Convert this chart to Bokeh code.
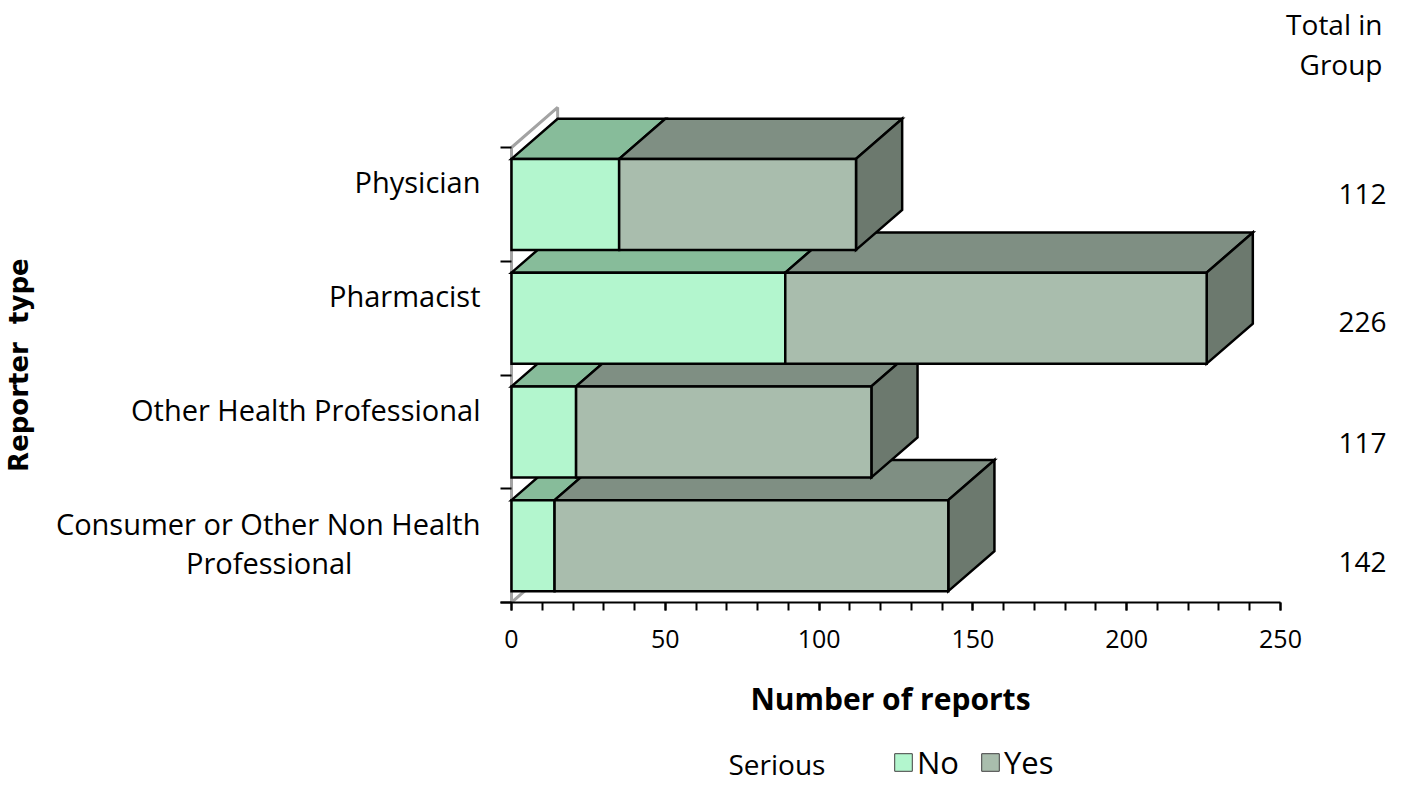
from bokeh.plotting import figure
from bokeh.models import Range1d, FixedTicker, LinearAxis, Label, Legend, LegendItem, Title
from bokeh.layouts import column
from bokeh.embed import file_html
from bokeh.resources import INLINE

# ---------------- data ----------------
categories = ["Consumer or Other Non Health\nProfessional", "Other Health Professional",
              "Pharmacist", "Physician"]
no_values = [14, 21, 89, 35]
yes_values = [128, 96, 137, 77]
totals = [n + y for n, y in zip(no_values, yes_values)]
series_names = ["No", "Yes"]
legend_title = "Serious"
x_title = "Number of reports"
y_title = "Reporter\u00a0 type"
totals_title = ["Total in", "Group"]
x_major = [0, 50, 100, 150, 200, 250]
x_minor = list(range(0, 251, 10))

# ---------------- layout / style ----------------
FONT = "Open Sans"
DX, DY = 15.0, 0.352          # 3D depth offset (data units)
BAR_LO, BAR_HI = 0.1, 0.9     # bar front face within a category band
LABEL_OFF = 0.70              # category label position inside band
LINE_STEP = 0.175             # half line height of wrapped labels (data units)
WRAP_PAD = "\u00a0" * 17      # centres the wrapped second line under the first
TITLE_PAD = "\u00a0" * 5      # moves the rotated axis title slightly down
TOTAL_POS = [0.355, 1.405, 2.47, 3.59]
NO_FRONT, NO_TOP = "#B3F6CE", "#87BC9A"
YES_FRONT, YES_TOP, YES_SIDE = "#A9BDAD", "#7F8F83", "#6C796E"
WALL = "#A3A3A3"

W, H = 1428, 786
H_LEG = 50
H_MAIN = H - H_LEG
FRAME_L, FRAME_R, FRAME_B, FRAME_T = 500, 1280, 602, 82
PX_PER_Y = 113.75
Y_TOP = (FRAME_B - FRAME_T) / PX_PER_Y

p = figure(width=W, height=H_MAIN, output_backend="svg", toolbar_location=None,
           x_range=Range1d(-3.576, 250), y_range=Range1d(0, Y_TOP),
           min_border_left=FRAME_L, min_border_right=W - FRAME_R,
           min_border_top=FRAME_T, min_border_bottom=H_MAIN - FRAME_B)
p.outline_line_color = None
p.grid.visible = False
p.background_fill_color = "white"

# header of the totals column (two right-aligned lines)
def style_title(t):
    t.align = "right"
    t.offset = -102
    t.standoff = 0
    t.vertical_align = "bottom"
    t.text_font = FONT
    t.text_font_size = "28px"
    t.text_font_style = "normal"
    t.text_color = "black"

p.title.text = totals_title[0]
style_title(p.title)
t2 = Title(text=totals_title[1])
style_title(t2)
p.add_layout(t2, "above")

# wall / floor edges
p.line(x=[0, 0, DX, DX], y=[0, 4, 4 + DY, DY], line_color=WALL, line_width=3)
p.line(x=[0, DX], y=[0, DY], line_color=WALL, line_width=3)

# 3D stacked bars, drawn bottom category first
xs, ys, fills = [], [], []
for i, (n, y) in enumerate(zip(no_values, yes_values)):
    b, t = i + BAR_LO, i + BAR_HI
    tot = n + y
    xs.append([0, n, n + DX, DX]); ys.append([t, t, t + DY, t + DY]); fills.append(NO_TOP)
    xs.append([n, tot, tot + DX, n + DX]); ys.append([t, t, t + DY, t + DY]); fills.append(YES_TOP)
    xs.append([tot, tot + DX, tot + DX, tot]); ys.append([b, b + DY, t + DY, t]); fills.append(YES_SIDE)
    xs.append([0, n, n, 0]); ys.append([b, b, t, t]); fills.append(NO_FRONT)
    xs.append([n, tot, tot, n]); ys.append([b, b, t, t]); fills.append(YES_FRONT)

p.patches(xs=xs, ys=ys, fill_color=fills, line_color="black", line_width=2.5,
          line_join="miter")

# x axis
xa = p.xaxis[0]
xa.ticker = FixedTicker(ticks=x_major, minor_ticks=x_minor)
xa.axis_line_color = "black"
xa.axis_line_width = 2
xa.major_tick_line_color = "black"
xa.major_tick_line_width = 2
xa.minor_tick_line_color = "black"
xa.minor_tick_line_width = 2
xa.major_tick_in = 0
xa.major_tick_out = 8
xa.minor_tick_in = 0
xa.minor_tick_out = 8
xa.major_label_standoff = 19
xa.major_label_text_font = FONT
xa.major_label_text_font_size = "25px"
xa.major_label_text_color = "black"
xa.axis_label = x_title
xa.axis_label_text_font = FONT
xa.axis_label_text_font_size = "30px"
xa.axis_label_text_font_style = "bold"
xa.axis_label_text_color = "black"
xa.axis_label_standoff = 27

# y axis (category labels + band ticks)
label_pos, label_txt = [], []
for i, c in enumerate(categories):
    parts = c.split("\n")
    label_pos.append(round(i + LABEL_OFF - LINE_STEP * (len(parts) - 1), 3))
    label_txt.append("\n".join([parts[0]] + [s + WRAP_PAD for s in parts[1:]]))
ya = p.yaxis[0]
ya.ticker = FixedTicker(ticks=label_pos, minor_ticks=list(range(len(categories) + 1)))
ya.major_label_overrides = dict(zip(label_pos, label_txt))
ya.axis_line_color = None
ya.major_tick_line_color = None
ya.major_tick_out = 0
ya.major_tick_in = 0
ya.minor_tick_line_color = "black"
ya.minor_tick_line_width = 2
ya.minor_tick_in = 11
ya.minor_tick_out = 0
ya.major_label_standoff = 20
ya.major_label_text_font = FONT
ya.major_label_text_font_size = "29px"
ya.major_label_text_line_height = 1.0
ya.major_label_text_color = "black"
ya.axis_label = y_title + TITLE_PAD
ya.axis_label_text_font = "DejaVu Sans"
ya.axis_label_text_font_size = "26px"
ya.axis_label_text_font_style = "bold"
ya.axis_label_text_color = "black"
ya.axis_label_standoff = 19

# right axis: totals
ra = LinearAxis(ticker=FixedTicker(ticks=TOTAL_POS),
                major_label_overrides={pos: str(t) for pos, t in zip(TOTAL_POS, totals)})
ra.axis_line_color = None
ra.major_tick_line_color = None
ra.minor_tick_line_color = None
ra.major_tick_out = 0
ra.major_label_standoff = 58
ra.major_label_text_font = FONT
ra.major_label_text_font_size = "28px"
ra.major_label_text_color = "black"
p.add_layout(ra, "right")

# ---------------- legend strip ----------------
pl = figure(width=W, height=H_LEG, output_backend="svg", toolbar_location=None,
            x_axis_type=None, y_axis_type=None,
            min_border_left=FRAME_L, min_border_right=W - FRAME_R,
            min_border_top=0, min_border_bottom=0,
            x_range=Range1d(0, FRAME_R - FRAME_L), y_range=Range1d(0, H_LEG))
pl.outline_line_color = None
pl.grid.visible = False
nan = float("nan")
rn = pl.quad(left=[nan], right=[nan], top=[nan], bottom=[nan], fill_color=NO_FRONT,
             line_color="#404040", line_width=1)
ry = pl.quad(left=[nan], right=[nan], top=[nan], bottom=[nan], fill_color=YES_FRONT,
             line_color="#404040", line_width=1)
leg = Legend(items=[LegendItem(label=series_names[0], renderers=[rn]),
                    LegendItem(label=series_names[1], renderers=[ry])],
             location=(392, 3), orientation="horizontal",
             padding=0, margin=0, spacing=20, glyph_width=22, glyph_height=22,
             label_standoff=3, border_line_color=None, background_fill_alpha=0,
             label_text_font=FONT, label_text_font_size="31px", label_text_color="black")
pl.add_layout(leg)
pl.add_layout(Label(x=228, y=23, text=legend_title, text_align="left", text_baseline="middle",
                    text_font=FONT, text_font_size="28px", text_color="black"))

layout = column(p, pl, spacing=0)
open("out.html", "w").write(file_html(layout, INLINE))
